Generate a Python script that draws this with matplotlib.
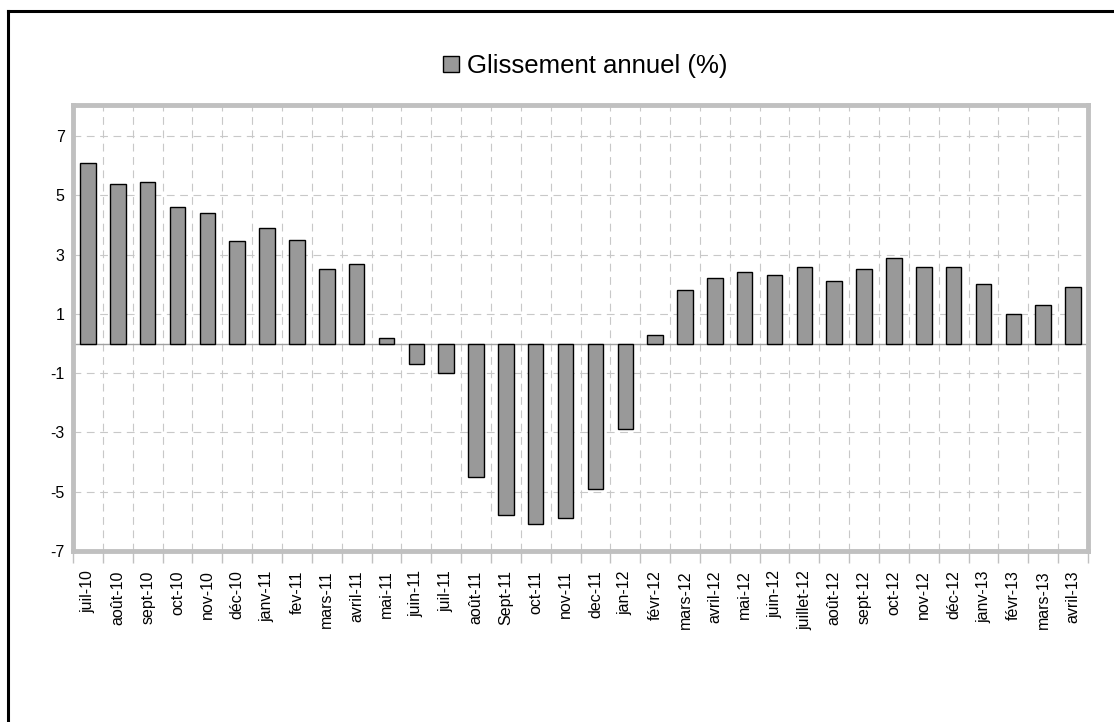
import matplotlib.pyplot as plt
from matplotlib.lines import Line2D
import numpy as np

# monthly year-on-year change, juil-10 .. avril-13
months = ['juil-10', 'août-10', 'sept-10', 'oct-10', 'nov-10', 'déc-10',
          'janv-11', 'fev-11', 'mars-11', 'avril-11', 'mai-11', 'juin-11',
          'juil-11', 'août-11', 'Sept-11', 'oct-11', 'nov-11', 'dec-11',
          'jan-12', 'févr-12', 'mars-12', 'avril-12', 'mai-12', 'juin-12',
          'juillet-12', 'août-12', 'sept-12', 'oct-12', 'nov-12', 'déc-12',
          'janv-13', 'févr-13', 'mars-13', 'avril-13']
glissement = [6.1, 5.4, 5.45, 4.6, 4.4, 3.45,
              3.9, 3.5, 2.5, 2.7, 0.2, -0.7,
              -1.0, -4.5, -5.8, -6.1, -5.9, -4.9,
              -2.9, 0.3, 1.8, 2.2, 2.4, 2.3,
              2.6, 2.1, 2.5, 2.9, 2.6, 2.6,
              2.0, 1.0, 1.3, 1.9]
y_ticks = [-7, -5, -3, -1, 1, 3, 5, 7]

plt.rcParams['font.family'] = ['Liberation Sans', 'DejaVu Sans']

W, H = 1114, 722
fig = plt.figure(figsize=(W / 100, H / 100), dpi=100)

# black frame: only top and left edges show in the original
fig.add_artist(Line2D([7.5 / W, 1], [1 - 10.5 / H, 1 - 10.5 / H], color='black',
                      linewidth=2.2, solid_capstyle='projecting'))
fig.add_artist(Line2D([7.5 / W, 7.5 / W], [0, 1 - 10.5 / H], color='black',
                      linewidth=2.2, solid_capstyle='projecting'))

ax = fig.add_axes([73 / W, 1 - 551 / H, (1088 - 73) / W, (551 - 105) / H])

x = np.arange(len(months))
ax.bar(x, glissement, width=0.52, color='#999999', edgecolor='black',
       linewidth=1, label='Glissement annuel (%)', zorder=3)
ax.axhline(0, color='#a0a0a0', linewidth=1, zorder=2)

ax.set_xlim(-0.5, len(months) - 0.5)
ax.set_ylim(-7, 8.05)

# labels at bar centres, ticks and grid at boundaries
ax.set_xticks(x)
ax.set_xticklabels(months, rotation=90, fontsize=11.5)
ax.set_xticks(np.arange(len(months) + 1) - 0.5, minor=True)
ax.tick_params(axis='x', which='major', length=0, pad=14)
ax.tick_params(axis='x', which='minor', length=8.5, color='#c0c0c0', width=1)

ax.set_yticks(y_ticks)
ax.set_yticklabels([str(v) for v in y_ticks], fontsize=11.5)
ax.tick_params(axis='y', length=0, pad=6)

ax.grid(True, axis='y', which='major', color='#c8c8c8', linestyle=(0, (7, 5)), linewidth=0.8)
ax.grid(True, axis='x', which='minor', color='#c8c8c8', linestyle=(0, (7, 5)), linewidth=0.8)
ax.grid(False, axis='x', which='major')
ax.set_axisbelow(True)

for s in ax.spines.values():
    s.set_color('#c0c0c0')
    s.set_linewidth(3.5)

fig.legend(loc='center', bbox_to_anchor=(585 / W, 1 - 66 / H), frameon=False,
           fontsize=18.5, handlelength=0.62, handleheight=0.62, handletextpad=0.3)

fig.savefig('out.png', dpi=100)
